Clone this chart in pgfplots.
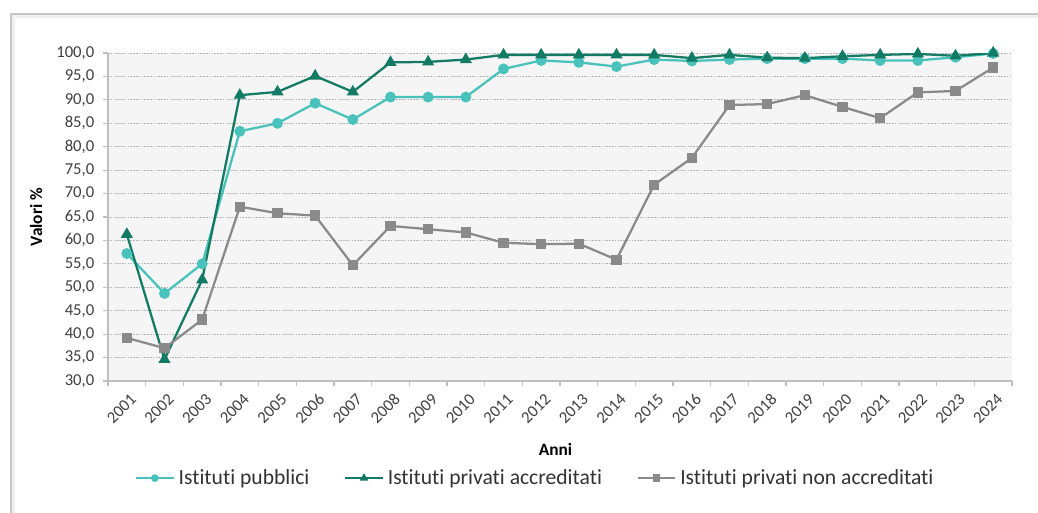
\documentclass[border=0pt]{standalone}
\usepackage{pgfplots}
\pgfplotsset{compat=1.18}
\usepackage{fontspec}
\setmainfont{Carlito}[Ligatures=NoCommon]
\definecolor{pubb}{HTML}{48C2BA}
\definecolor{accr}{HTML}{137A63}
\definecolor{nonacc}{HTML}{8A8A8A}
\definecolor{axgray}{HTML}{BFBFBF}
\definecolor{txtgray}{HTML}{404040}
\begin{document}
\begin{tikzpicture}
% page = 1038 x 512 px, 1 px = 0.75pt, plot area SW corner at origin
\useasboundingbox (-81pt,-98.25pt) rectangle (697.5pt,285.75pt);
\fill[white] (-81pt,-98.25pt) rectangle (697.5pt,285.75pt);
% outer frame with soft shadow
\draw[line width=3pt, black!6] (-71.5pt,-99pt) -- (-71.5pt,274pt) -- (698pt,274pt);
\draw[line width=1.2pt, black!22] (-72.75pt,-99pt) -- (-72.75pt,275.25pt) -- (698pt,275.25pt);
\begin{axis}[
    at={(0,0)}, anchor=south west,
    scale only axis,
    width=678pt, height=246pt,
    xmin=0.5, xmax=24.5,
    ymin=30, ymax=100,
    axis x line*=bottom, axis y line*=left,
    axis line style={draw=axgray, line width=0.9pt},
    axis background/.style={fill=black!4},
    xtick={1,...,24},
    xticklabels={2001,2002,2003,2004,2005,2006,2007,2008,2009,2010,2011,2012,2013,2014,2015,2016,2017,2018,2019,2020,2021,2022,2023,2024},
    minor xtick={0.5,1.5,...,24.5},
    major x tick style={draw=none},
    tick align=outside,
    major tick length=3.75pt, minor tick length=3.75pt,
    tick style={draw=axgray, line width=0.9pt},
    ytick={30,35,...,100},
    ymajorgrids,
    major grid style={draw=black!30, line width=0.6pt, dash pattern=on 1.2pt off 0.9pt},
    /pgf/number format/.cd, fixed, fixed zerofill, precision=1, use comma, 1000 sep={}, assume math mode=true,
    /pgfplots/.cd,
    tick label style={font=\fontsize{12.5}{14}\selectfont, text=txtgray},
    xticklabel style={rotate=45, anchor=east, yshift=-9pt, xshift=1.5pt},
    yticklabel style={xshift=-3pt},
    xlabel={\textbf{Anni}},
    ylabel={\textbf{Valori \%}},
    label style={font=\fontsize{13}{15}\selectfont},
    xlabel style={at={(axis description cs:0.495,-0.21)}, anchor=center},
    ylabel style={at={(axis description cs:-0.0796,0.5)}, anchor=center},
    legend columns=3,
    legend style={at={(axis description cs:0.473,-0.296)}, anchor=center,
        draw=none, fill=none, font=\fontsize{16.2}{19}\selectfont, text=txtgray!80!black,
        /tikz/every even column/.append style={column sep=24pt},
        /tikz/every odd column/.append style={column sep=1pt}},
    legend image code/.code={\draw[mark repeat=2, mark phase=2, #1] plot coordinates {(0pt,0pt) (14pt,0pt) (28pt,0pt)};},
    legend image post style={mark size=2pt},
]
\addplot[pubb, line width=1.7pt, mark=*, mark size=3.2pt] coordinates {
(1,57.2) (2,48.7) (3,55.0) (4,83.3) (5,85.0) (6,89.3) (7,85.8) (8,90.6)
(9,90.6) (10,90.6) (11,96.6) (12,98.4) (13,98.0) (14,97.1) (15,98.6) (16,98.3)
(17,98.6) (18,98.8) (19,98.8) (20,98.8) (21,98.4) (22,98.4) (23,99.1) (24,99.9)
};
\addlegendentry{Istituti pubblici}
\addplot[accr, line width=1.7pt, mark=triangle*, mark size=3.6pt] coordinates {
(1,61.3) (2,34.6) (3,51.6) (4,91.0) (5,91.7) (6,95.1) (7,91.7) (8,98.0)
(9,98.1) (10,98.6) (11,99.6) (12,99.6) (13,99.6) (14,99.6) (15,99.6) (16,98.9)
(17,99.6) (18,99.0) (19,98.9) (20,99.3) (21,99.6) (22,99.8) (23,99.4) (24,100.0)
};
\addlegendentry{Istituti privati accreditati}
\addplot[nonacc, line width=1.7pt, mark=square*, mark size=3pt] coordinates {
(1,39.2) (2,37.0) (3,43.1) (4,67.2) (5,65.8) (6,65.3) (7,54.7) (8,63.1)
(9,62.4) (10,61.7) (11,59.5) (12,59.2) (13,59.3) (14,55.9) (15,71.9) (16,77.6)
(17,88.9) (18,89.1) (19,91.0) (20,88.5) (21,86.1) (22,91.6) (23,91.9) (24,96.9)
};
\addlegendentry{Istituti privati non accreditati}
\end{axis}
\end{tikzpicture}
\end{document}
